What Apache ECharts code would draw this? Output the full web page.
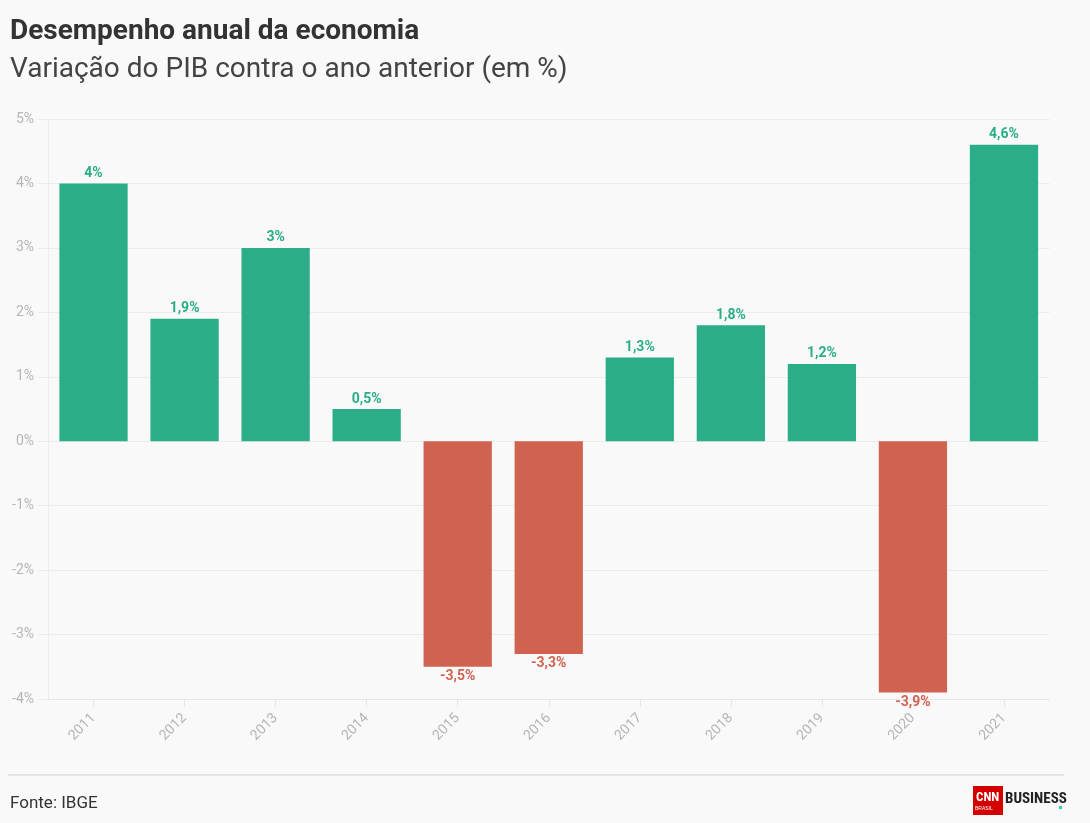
<!DOCTYPE html>
<html><head><meta charset="utf-8">
<script src="https://cdn.jsdelivr.net/npm/echarts@6/dist/echarts.min.js"></script>
<style>html,body{margin:0;padding:0;background:#f9f9f9;}#c{width:1090px;height:823px;}</style>
</head><body><div id="c"></div>
<script>
const years = ['2011','2012','2013','2014','2015','2016','2017','2018','2019','2020','2021'];
const gdpGrowth = [4, 1.9, 3, 0.5, -3.5, -3.3, 1.3, 1.8, 1.2, -3.9, 4.6];
const yTicks = [-4, -3, -2, -1, 0, 1, 2, 3, 4, 5];

const GREEN = '#2bae87', RED = '#d06250';
const condensed = '"Roboto Condensed","Liberation Sans Narrow","DejaVu Sans Condensed",Roboto,sans-serif';
const chart = echarts.init(document.getElementById('c'));
const fmt = v => String(v).replace('.', ',') + '%';
chart.setOption({
  backgroundColor: '#f9f9f9',
  animation: false,
  grid: {left: 48, right: 40.5, top: 119, bottom: 124},
  title: [
    {text: 'Desempenho anual da economia', left: 5, top: 13,
     textStyle: {fontFamily: 'Roboto', fontWeight: 'bold', fontSize: 28, color: '#333'}},
    {text: 'Variação do PIB contra o ano anterior (em %)', left: 5, top: 51,
     textStyle: {fontFamily: 'Roboto', fontWeight: 'normal', fontSize: 28, color: '#444'}},
    {text: 'Fonte: IBGE', left: 5, top: 790,
     textStyle: {fontFamily: 'Roboto', fontWeight: 'normal', fontSize: 17, color: '#333'}}
  ],
  xAxis: {
    type: 'category', data: years, position: 'bottom',
    axisLine: {onZero: false, show: true, lineStyle: {color: '#e6e6e6'}},
    axisTick: {show: true, alignWithLabel: true, length: 8, lineStyle: {color: '#e6e6e6'}},
    axisLabel: {rotate: 45, color: '#b5b5b5', fontSize: 14, fontFamily: 'Roboto', margin: 17}
  },
  yAxis: {
    type: 'value', min: -4, max: 5, interval: 1,
    axisLine: {show: true, lineStyle: {color: '#ececec'}},
    axisTick: {show: true, length: 10, lineStyle: {color: '#ececec'}},
    splitLine: {lineStyle: {color: '#ececec'}},
    axisLabel: {formatter: v => yTicks.includes(v) ? v + '%' : '', color: '#b5b5b5', fontSize: 14, fontFamily: 'Roboto', margin: 14}
  },
  series: [{
    type: 'bar', barWidth: '75%',
    data: gdpGrowth.map(v => ({
      value: v,
      itemStyle: {color: v >= 0 ? GREEN : RED},
      label: {show: true, position: v >= 0 ? 'top' : 'bottom', distance: 3,
              color: v >= 0 ? GREEN : RED, fontWeight: 'bold', fontSize: 14,
              fontFamily: 'Roboto', formatter: p => fmt(p.value)}
    }))
  }],
  graphic: [
    {type: 'line', shape: {x1: 8, y1: 775, x2: 1064, y2: 775}, style: {stroke: '#dddddd', lineWidth: 1.5}},
    {type: 'rect', shape: {x: 973, y: 786, width: 30, height: 29}, style: {fill: '#d40000'}},
    {type: 'text', left: 976, top: 791, style: {text: 'CNN', fill: '#fff', font: 'bold 13px ' + condensed}},
    {type: 'text', left: 975, top: 806, style: {text: 'BRASIL', fill: '#fff', font: '5px sans-serif'}},
    {type: 'text', left: 1005, top: 792, style: {text: 'BUSINESS', fill: '#222', font: 'bold 15px ' + condensed}},
    {type: 'rect', shape: {x: 1059, y: 806, width: 3, height: 3}, style: {fill: '#2fd3b0'}}
  ]
});
</script></body></html>
